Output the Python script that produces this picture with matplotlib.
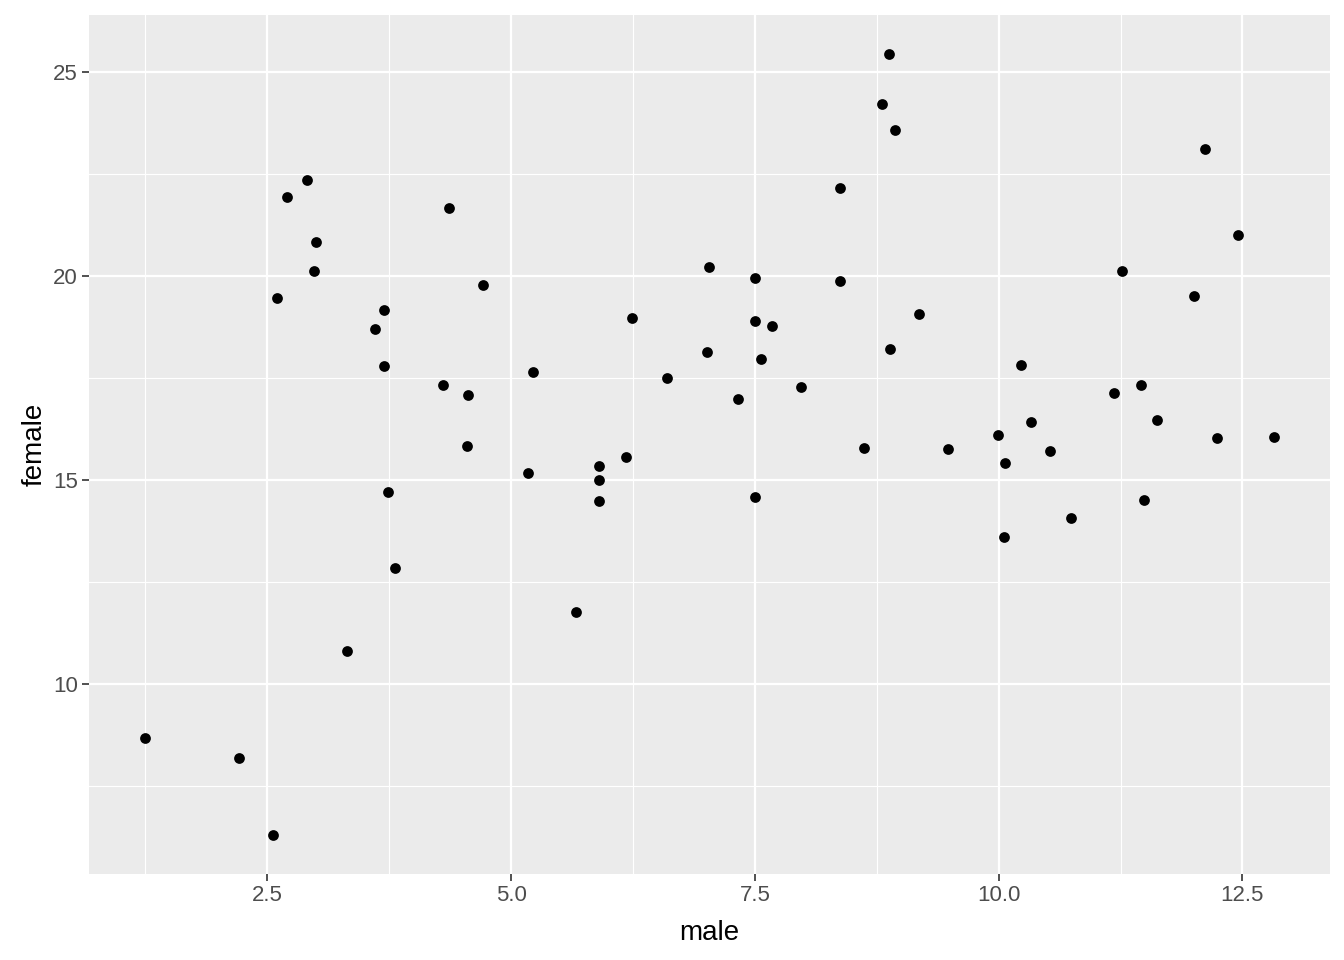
import matplotlib.pyplot as plt
import numpy as np

plt.rcParams['font.family'] = ['Liberation Sans', 'DejaVu Sans']

# values
male = [1.25, 2.21, 2.56, 2.60, 2.70, 2.91, 3.00, 2.98, 3.32, 3.60,
        3.70, 3.70, 3.74, 3.81, 4.30, 4.36, 4.56, 4.55, 4.71, 5.17,
        5.23, 5.67, 5.90, 5.90, 5.90, 6.18, 6.24, 6.60, 7.01, 7.03,
        7.33, 7.50, 7.50, 7.50, 7.56, 7.68, 7.97, 8.37, 8.37, 8.62,
        8.80, 8.88, 8.94, 8.89, 9.18, 9.48, 9.99, 10.06, 10.07, 10.23,
        10.33, 10.53, 10.74, 11.18, 11.27, 11.46, 11.49, 11.62, 12.00, 12.12,
        12.24, 12.46, 12.82]
female = [8.67, 8.18, 6.30, 19.47, 21.94, 22.36, 20.84, 20.13, 10.82, 18.69,
          19.16, 17.79, 14.71, 12.85, 17.32, 21.67, 17.08, 15.83, 19.77, 15.17,
          17.64, 11.77, 15.34, 15.00, 14.49, 15.56, 18.96, 17.49, 18.13, 20.21,
          16.98, 19.96, 18.89, 14.58, 17.96, 18.77, 17.27, 22.16, 19.87, 15.78,
          24.22, 25.44, 23.58, 18.20, 19.06, 15.76, 16.10, 13.61, 15.42, 17.81,
          16.42, 15.71, 14.07, 17.13, 20.13, 17.32, 14.51, 16.47, 19.52, 23.12,
          16.03, 21.01, 16.05]

x_ticks = [2.5, 5.0, 7.5, 10.0, 12.5]
y_ticks = [10, 15, 20, 25]

fig = plt.figure(figsize=(13.44, 9.6), dpi=100)
ax = fig.add_axes([89/1344, 86/960, (1330-89)/1344, (874-15)/960])
ax.set_facecolor('#EBEBEB')

# ggplot-like 5% expansion
xr = max(male) - min(male)
yr = max(female) - min(female)
ax.set_xlim(min(male) - 0.05*xr, max(male) + 0.05*xr)
ax.set_ylim(min(female) - 0.05*yr, max(female) + 0.05*yr)

ax.set_xticks(x_ticks)
ax.set_yticks(y_ticks)
ax.set_xticks([1.25, 3.75, 6.25, 8.75, 11.25], minor=True)
ax.set_yticks([7.5, 12.5, 17.5, 22.5], minor=True)
ax.grid(which='major', color='white', linewidth=1.6)
ax.grid(which='minor', color='white', linewidth=0.8)
ax.set_axisbelow(True)
for s in ax.spines.values():
    s.set_visible(False)

ax.tick_params(which='major', length=5, width=1.2, color='#333333',
               labelsize=16, labelcolor='#4D4D4D', pad=3)
ax.tick_params(which='minor', length=0)

ax.scatter(male, female, s=60, color='black', linewidths=0, zorder=3)

ax.set_xlabel('male', fontsize=20, color='black', labelpad=10)
ax.set_ylabel('female', fontsize=20, color='black', labelpad=4)

fig.savefig('out.png', dpi=100)
